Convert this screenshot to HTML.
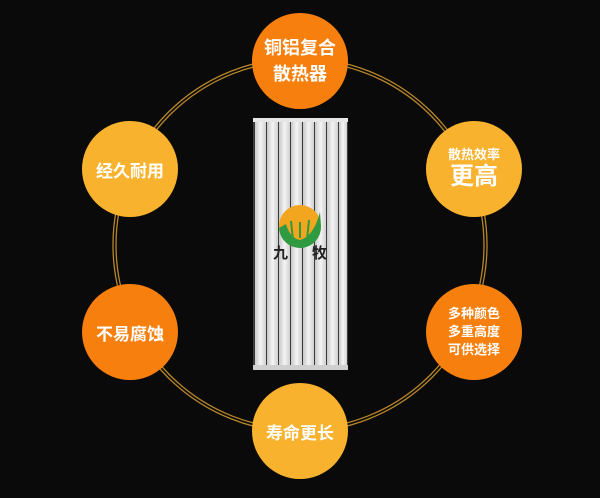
<!DOCTYPE html>
<html><head><meta charset="utf-8"><style>
body{margin:0;width:600px;height:498px;background:#0a0a0a;overflow:hidden;position:relative;font-family:"Liberation Sans","Noto Sans CJK SC",sans-serif}
.c{position:absolute;border-radius:50%;color:#fff;font-weight:bold;display:flex;flex-direction:column;align-items:center;justify-content:center;text-align:center;width:96px;height:96px}
.o{background:#f77f0e}.y{background:#f8b22d}
</style></head><body>
<svg width="600" height="498" style="position:absolute;left:0;top:0">
<defs><linearGradient id="g" x1="0" x2="1"><stop offset="0" stop-color="#c8c8c8"/><stop offset="0.5" stop-color="#f4f4f4"/><stop offset="1" stop-color="#d0d0d0"/></linearGradient></defs>
<circle cx="300" cy="245" r="187" fill="none" stroke="#b8862a" stroke-width="1.3"/>
<circle cx="300" cy="245" r="184" fill="none" stroke="#b8862a" stroke-width="1.3"/>
<rect x="253" y="118" width="95" height="252" fill="#3a3a3a"/>
<g fill="url(#g)">
<rect x="255" y="119" width="11" height="249"/><rect x="267" y="119" width="11" height="249"/>
<rect x="279" y="119" width="11" height="249"/><rect x="291" y="119" width="11" height="249"/>
<rect x="303" y="119" width="11" height="249"/><rect x="315" y="119" width="11" height="249"/>
<rect x="327" y="119" width="11" height="249"/><rect x="339" y="119" width="8" height="249"/>
</g>
<rect x="253" y="118" width="95" height="4" fill="#e6e6e6"/>
<rect x="253" y="365" width="95" height="5" fill="#cfcfcf"/>
<circle cx="300" cy="226" r="21" fill="#f2a51f"/>
<path d="M279 228 A21 21 0 0 0 321 226 L320 212 Q314 236 300 240 Q290 238 286 224 Z" fill="#2f9a3f"/>
<path d="M291 221 L293 240 M300 222 L300 238 M309 220 L307 240" stroke="#2f9a3f" stroke-width="2"/>
<text x="273" y="258" font-size="15" font-weight="bold" fill="#222" font-family="Noto Sans CJK SC">九</text>
<text x="312" y="258" font-size="15" font-weight="bold" fill="#222" font-family="Noto Sans CJK SC">牧</text>
</svg>
<div class="c o" style="left:252px;top:13px;font-size:18px;line-height:26px">铜铝复合<br>散热器</div>
<div class="c y" style="left:82px;top:121px;font-size:17px">经久耐用</div>
<div class="c y" style="left:426px;top:121px"><div style="font-size:13px;line-height:16px">散热效率</div><div style="font-size:24px;line-height:28px">更高</div></div>
<div class="c o" style="left:82px;top:284px;font-size:17px">不易腐蚀</div>
<div class="c o" style="left:426px;top:284px;font-size:13px;line-height:18px">多种颜色<br>多重高度<br>可供选择</div>
<div class="c y" style="left:252px;top:383px;font-size:17px">寿命更长</div>
</body></html>
